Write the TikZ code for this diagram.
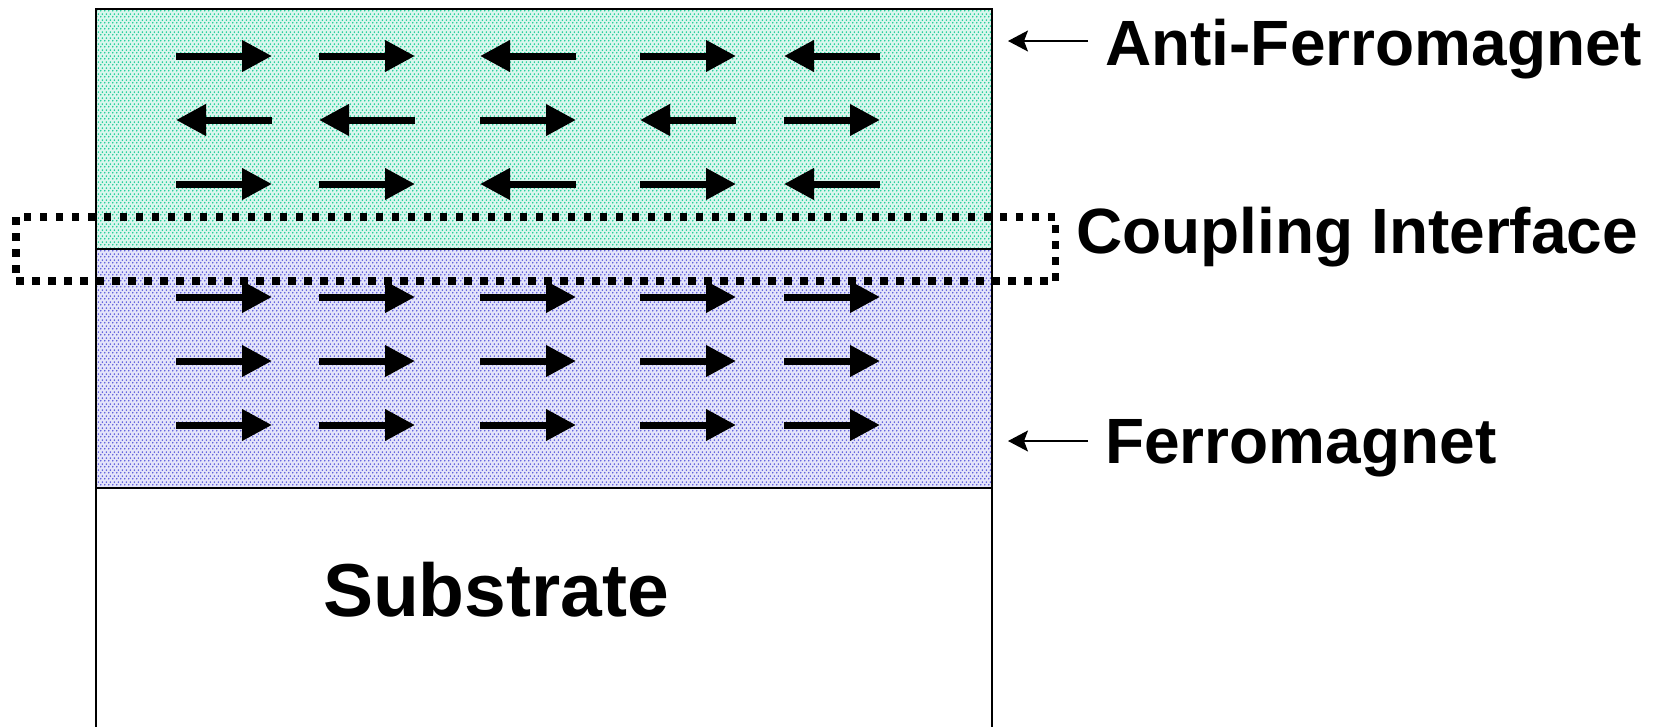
\documentclass[tikz,border=0pt]{standalone}
\usepackage{fontspec}
\setmainfont{Liberation Sans}
\usetikzlibrary{arrows.meta,patterns}

% staggered dot screen used for the magnetic layers
\pgfdeclarepatternformonly{stagdots}{\pgfqpoint{0pt}{0pt}}{\pgfqpoint{4pt}{6pt}}{\pgfqpoint{4pt}{6pt}}{%
  \pgfpathcircle{\pgfqpoint{1pt}{1.5pt}}{1.05pt}%
  \pgfpathcircle{\pgfqpoint{3pt}{4.5pt}}{1.05pt}%
  \pgfusepath{fill}%
}

\definecolor{afmbase}{RGB}{218,246,237}
\definecolor{afmdot}{RGB}{25,205,150}
\definecolor{fmbase}{RGB}{228,228,250}
\definecolor{fmdot}{RGB}{90,90,218}

\tikzset{
  outline/.style={line width=2pt, black},
  spin/.style={line width=7pt, -{Triangle[length=30pt,width=30pt]}},
  pointer/.style={line width=1.6pt, -{Stealth[length=20pt,width=21pt,inset=4pt]}},
  interface/.style={line width=7.5pt, dash pattern=on 7.5pt off 8.5pt},
  layerlabel/.style={font=\fontsize{64}{70}\selectfont\bfseries, inner sep=0pt},
  baselabel/.style={font=\fontsize{75}{82}\selectfont\bfseries, inner sep=0pt}
}

\begin{document}
\begin{tikzpicture}[x=1pt, y=-1pt]
  \useasboundingbox (0,0) rectangle (1654,726);

  % layer corners
  \coordinate (afmtl) at (96,9);
  \coordinate (afmbr) at (992,249);
  \coordinate (fmtl)  at (96,249);
  \coordinate (fmbr)  at (992,488);

  % anti-ferromagnet layer
  \fill[afmbase] (afmtl) rectangle (afmbr);
  \fill[pattern=stagdots, pattern color=afmdot] (afmtl) rectangle (afmbr);
  % ferromagnet layer
  \fill[fmbase] (fmtl) rectangle (fmbr);
  \fill[pattern=stagdots, pattern color=fmdot] (fmtl) rectangle (fmbr);

  % stack outline (substrate runs off the bottom)
  \draw[outline] (96,740) -- (afmtl) -- (992,9) -- (992,740);
  \draw[outline] (fmtl) -- (afmbr);
  \draw[outline] (96,488) -- (fmbr);

  % spins in the anti-ferromagnet: +1 points right, -1 points left
  \foreach \y/\pat in {56/{1,1,-1,1,-1}, 120/{-1,-1,1,-1,1}, 184/{1,1,-1,1,-1}} {
    \foreach \x [count=\i] in {176,319,480,640,784} {
      \foreach \d [count=\j] in \pat {
        \ifnum\i=\j
          \ifnum\d>0
            \draw[spin] (\x,\y) -- (\x+96,\y);
          \else
            \draw[spin] (\x+96,\y) -- (\x,\y);
          \fi
        \fi
      }
    }
  }
  % spins in the ferromagnet, all aligned
  \foreach \y in {297,361,425} {
    \foreach \x in {176,319,480,640,784} {
      \draw[spin] (\x,\y) -- (\x+96,\y);
    }
  }

  % coupling interface frame
  \draw[interface] (16,217) rectangle (1055.5,281);

  % labels
  \node[layerlabel, anchor=base west] (afmlabel) at (1105,65) {Anti-Ferromagnet};
  \node[layerlabel, anchor=base west] (cilabel) at (1076,253) {Coupling Interface};
  \node[layerlabel, anchor=base west] (fmlabel) at (1105,463) {Ferromagnet};
  \node[baselabel, anchor=base] (sublabel) at (496,616) {Substrate};

  % pointers from labels to layers
  \coordinate (afmtail) at (1088,41);
  \coordinate (afmtip)  at (1008,41);
  \coordinate (fmtail)  at (1088,441);
  \coordinate (fmtip)   at (1008,441);
  \draw[pointer] (afmtail) -- (afmtip);
  \draw[pointer] (fmtail) -- (fmtip);
\end{tikzpicture}
\end{document}
